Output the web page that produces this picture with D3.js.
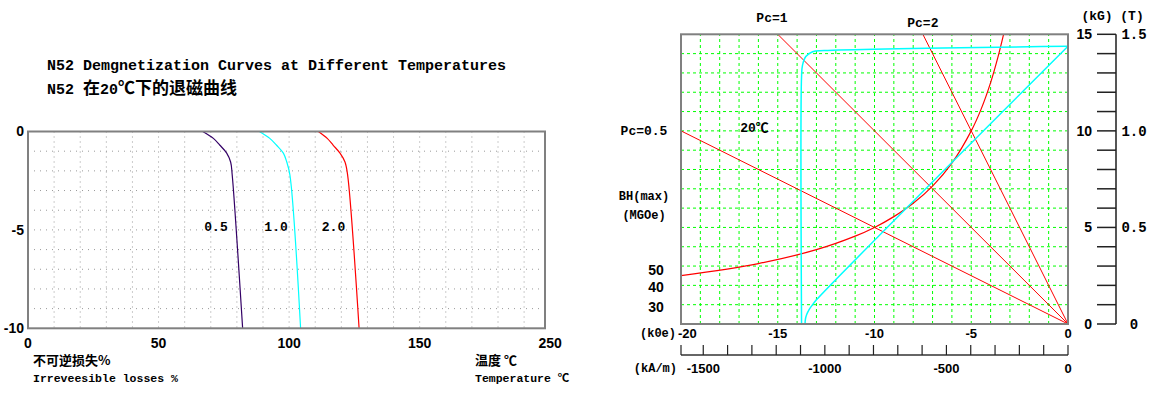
<!DOCTYPE html>
<html lang="en">
<head>
<meta charset="UTF-8">
<title>N52 Demagnetization</title>
<script src="https://cdn.jsdelivr.net/npm/d3@7"></script>
<style>
    body { margin: 0; background: #fff; }
    svg { display: block; }
</style>
</head>
<body>
<svg id="chart" width="1158" height="393"></svg>
<script>
// left chart: irreversible loss vs temperature
var lossSteps = [0, -0.35, -0.7, -1.1, -1.55, -2.2, -10];
var temp05 = [66.9, 71.0, 73.5, 76.1, 77.6, 78.2, 82.2];
var temp10 = [88.6, 92.6, 95.2, 97.8, 99.1, 100.3, 104.4];
var temp20 = [111.2, 114.6, 116.9, 119.5, 121.4, 122.4, 126.8];
var pcNames = ["0.5", "1.0", "2.0"];
var pcColors = ["#330066", "#00ffff", "#ff0000"];
var pcLabelTemp = [72, 95, 117];
var tempTicks = [0, 50, 100, 150, 200];
var tempTickLabels = ["0", "50", "100", "150", "250"];
var lossTicks = [0, -5, -10];

// right chart: B vs H at 20C
var normH = [0, -13.0, -13.2, -13.38, -13.5, -13.57, -13.59];
var normB = [14.38, 1.25, 1.0, 0.75, 0.5, 0.25, 0];
var intrH = [0, -12.6, -13.2, -13.55, -13.72, -13.77, -13.77];
var intrB = [14.38, 14.16, 14.1, 13.85, 13.4, 12.8, 0];
var bhH = [-20, -16, -13, -11, -10, -9, -8, -7, -6, -5, -4.5, -4, -3.6, -3.33];
var bhB = [2.5, 3.13, 3.85, 4.55, 5.0, 5.56, 6.25, 7.14, 8.33, 10.0, 11.1, 12.5, 13.9, 15];
var permeance = [0.5, 1, 2];
var kOeTicks = [-20, -15, -10, -5, 0];
var kAmLabels = [-1500, -1000, -500, 0];
var kGLabels = [0, 5, 10, 15];
var teslaLabels = ["0", "0.5", "1.0", "1.5"];
var bhLabels = [["50", 2.8], ["40", 1.9], ["30", 0.85]];

var MONO = "'Liberation Mono','Noto Sans CJK SC',monospace";
var SANS = "'Liberation Sans','Noto Sans CJK SC',sans-serif";
var CJK = "'Noto Sans CJK SC',sans-serif";

var svg = d3.select("#chart");

function txt(g, x, y, s, opts) {
    opts = opts || {};
    return g.append("text")
        .attr("x", x).attr("y", y)
        .attr("dy", "0.35em")
        .attr("text-anchor", opts.anchor || "middle")
        .style("font-family", opts.font || MONO)
        .style("font-size", (opts.size || 13) + "px")
        .style("font-weight", "bold")
        .style("fill", "#000")
        .text(s);
}

// ---------- left ----------
var L = svg.append("g");
var x1 = d3.scaleLinear().domain([0, 198]).range([28, 545]);
var y1 = d3.scaleLinear().domain([0, -10]).range([131.5, 328.3]);

var t1 = L.append("text").attr("x", 47).attr("y", 70)
    .style("font-family", MONO).style("font-size", "15px").style("font-weight", "bold")
    .text("N52 Demgnetization Curves at Different Temperatures");
var t2 = L.append("text").attr("x", 47).attr("y", 94)
    .style("font-family", MONO).style("font-size", "15px").style("font-weight", "bold");
t2.append("tspan").text("N52 ");
t2.append("tspan").style("font-family", CJK).style("font-size", "17px").text("在");
t2.append("tspan").text("20");
t2.append("tspan").style("font-family", CJK).style("font-size", "17px").text("℃下的退磁曲线");

L.append("g").selectAll("line.v").data(d3.range(10, 198, 10)).enter().append("line")
    .attr("x1", function(d){ return x1(d); }).attr("x2", function(d){ return x1(d); })
    .attr("y1", y1(0)).attr("y2", y1(-10))
    .attr("stroke", "#999").attr("stroke-dasharray", "1,4");
L.append("g").selectAll("line.h").data(d3.range(-1, -10, -1)).enter().append("line")
    .attr("y1", function(d){ return y1(d); }).attr("y2", function(d){ return y1(d); })
    .attr("x1", x1(0)).attr("x2", x1(198))
    .attr("stroke", "#999").attr("stroke-dasharray", "1,5");

var lossLine = d3.line()
    .x(function(d){ return x1(d[0]); })
    .y(function(d){ return y1(d[1]); })
    .curve(d3.curveCatmullRom);
[temp05, temp10, temp20].forEach(function(ts, i) {
    L.append("path")
        .datum(ts.map(function(t, j){ return [t, lossSteps[j]]; }))
        .attr("d", lossLine)
        .attr("fill", "none").attr("stroke", pcColors[i]).attr("stroke-width", 1.2);
    txt(L, x1(pcLabelTemp[i]), y1(-4.8), pcNames[i], {size: 13});
});

L.append("rect").attr("x", x1(0)).attr("y", y1(0))
    .attr("width", x1(198) - x1(0)).attr("height", y1(-10) - y1(0))
    .attr("fill", "none").attr("stroke", "#808080").attr("stroke-width", 2);

lossTicks.forEach(function(d) { txt(L, 24, y1(d), d, {anchor: "end", font: SANS, size: 14}); });
tempTicks.forEach(function(d, i) { txt(L, x1(d), 343, tempTickLabels[i], {font: SANS, size: 14}); });

txt(L, 33, 360, "不可逆损失%", {anchor: "start", font: CJK, size: 13});
txt(L, 33, 378, "Irreveesible losses %", {anchor: "start", size: 11.5});
txt(L, 475, 360, "温度 ℃", {anchor: "start", font: CJK, size: 13});
txt(L, 475, 378, "Temperature ℃", {anchor: "start", size: 11.5});

// ---------- right ----------
var R = svg.append("g");
var x2 = d3.scaleLinear().domain([-20, 0]).range([681, 1068]);
var y2 = d3.scaleLinear().domain([0, 15]).range([324, 34.3]);
var xKAm = d3.scaleLinear().domain([-20 * 79.577, 0]).range([681, 1068]);

R.append("g").selectAll("line").data(d3.range(-19, 0)).enter().append("line")
    .attr("x1", function(d){ return x2(d); }).attr("x2", function(d){ return x2(d); })
    .attr("y1", y2(0)).attr("y2", y2(15))
    .attr("stroke", "#00ff00").attr("stroke-dasharray", "3,3");
R.append("g").selectAll("line").data(d3.range(1, 15)).enter().append("line")
    .attr("y1", function(d){ return y2(d); }).attr("y2", function(d){ return y2(d); })
    .attr("x1", x2(-20)).attr("x2", x2(0))
    .attr("stroke", "#00ff00").attr("stroke-dasharray", "3,3");

R.append("clipPath").attr("id", "clipR").append("rect")
    .attr("x", x2(-20)).attr("y", y2(15)).attr("width", x2(0) - x2(-20)).attr("height", y2(0) - y2(15));
var curves = R.append("g").attr("clip-path", "url(#clipR)");

var bhLine = d3.line()
    .x(function(d){ return x2(d[0]); })
    .y(function(d){ return y2(d[1]); });

permeance.forEach(function(pc) {
    var hEnd = Math.max(-20, -15 / pc);
    curves.append("path").datum([[0, 0], [hEnd, -pc * hEnd]])
        .attr("d", bhLine).attr("fill", "none").attr("stroke", "#ff0000").attr("stroke-width", 1);
});
curves.append("path").datum(bhH.map(function(h, i){ return [h, bhB[i]]; }))
    .attr("d", bhLine.curve(d3.curveCatmullRom))
    .attr("fill", "none").attr("stroke", "#ff0000").attr("stroke-width", 1.2);
curves.append("path").datum(normH.map(function(h, i){ return [h, normB[i]]; }))
    .attr("d", bhLine.curve(d3.curveCatmullRom))
    .attr("fill", "none").attr("stroke", "#00ffff").attr("stroke-width", 1.5);
curves.append("path").datum(intrH.map(function(h, i){ return [h, intrB[i]]; }))
    .attr("d", bhLine.curve(d3.curveCatmullRom))
    .attr("fill", "none").attr("stroke", "#00ffff").attr("stroke-width", 1.5);

R.append("rect").attr("x", x2(-20)).attr("y", y2(15))
    .attr("width", x2(0) - x2(-20)).attr("height", y2(0) - y2(15))
    .attr("fill", "none").attr("stroke", "#808080").attr("stroke-width", 2);

// right hand B axis
R.append("line").attr("x1", 1116).attr("x2", 1116).attr("y1", y2(15)).attr("y2", y2(0))
    .attr("stroke", "#555").attr("stroke-width", 2);
R.append("g").selectAll("line").data(d3.range(0, 16)).enter().append("line")
    .attr("x1", 1097).attr("x2", 1116)
    .attr("y1", function(d){ return y2(d); }).attr("y2", function(d){ return y2(d); })
    .attr("stroke", "#222").attr("stroke-width", 1.5);
kGLabels.forEach(function(d, i) {
    txt(R, 1092, y2(d), d, {anchor: "end", font: SANS, size: 14});
    txt(R, 1134, y2(d), teslaLabels[i], {size: 14});
});
txt(R, 1097, 15, "(kG)", {size: 13});
txt(R, 1132, 15, "(T)", {size: 13});

// bottom axes
kOeTicks.forEach(function(d, i) {
    if (i === 0) txt(R, x2(d) - 3, 333, d, {anchor: "start", font: SANS, size: 13});
    else txt(R, x2(d), 333, d, {font: SANS, size: 13});
});
txt(R, 676, 333, "(k0e)", {anchor: "end", size: 12});

var kAmAxis = R.append("g");
kAmAxis.append("line").attr("x1", x2(-20)).attr("x2", xKAm(0)).attr("y1", 355).attr("y2", 355)
    .attr("stroke", "#666").attr("stroke-width", 2);
kAmAxis.selectAll("line.t").data(d3.range(-1600, 1, 100)).enter().append("line")
    .attr("x1", function(d){ return Math.max(x2(-20), xKAm(d)); })
    .attr("x2", function(d){ return Math.max(x2(-20), xKAm(d)); })
    .attr("y1", 345).attr("y2", 355).attr("stroke", "#222").attr("stroke-width", 1.2);
kAmLabels.forEach(function(d) { txt(R, xKAm(d), 368, d, {font: SANS, size: 13}); });
txt(R, 677, 368, "(kA/m)", {anchor: "end", size: 12});

// annotations
txt(R, x2(-15.3), 17, "Pc=1", {size: 13});
txt(R, x2(-7.5), 22, "Pc=2", {size: 13});
txt(R, 644, y2(10), "Pc=0.5", {size: 13});
txt(R, x2(-16.2), 127, "20℃", {size: 13});
txt(R, 644, 196, "BH(max)", {size: 12});
txt(R, 644, 215, "(MGOe)", {size: 12});
bhLabels.forEach(function(d) { txt(R, 656, y2(d[1]), d[0], {font: SANS, size: 14}); });
</script>
</body>
</html>
